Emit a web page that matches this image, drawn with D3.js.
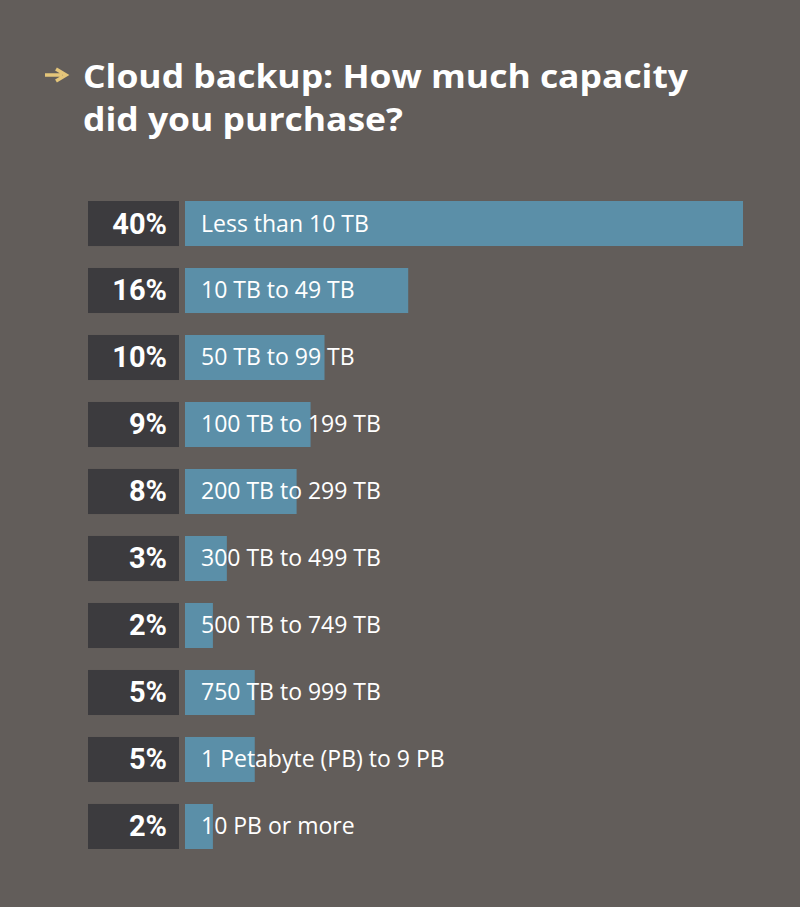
<!DOCTYPE html>
<html>
<head>
<script src="https://d3js.org/d3.v7.min.js"></script>
<style>
  body { margin: 0; background: #625d5a; }
</style>
</head>
<body>
<svg width="800" height="907"></svg>
<script>
var categories = ["Less than 10 TB", "10 TB to 49 TB", "50 TB to 99 TB", "100 TB to 199 TB",
    "200 TB to 299 TB", "300 TB to 499 TB", "500 TB to 749 TB", "750 TB to 999 TB",
    "1 Petabyte (PB) to 9 PB", "10 PB or more"];
var values = [40, 16, 10, 9, 8, 3, 2, 5, 5, 2];

var svg = d3.select("svg");
svg.append("rect").attr("width", 800).attr("height", 907).attr("fill", "#625d5a");

// title arrow
svg.append("path")
    .attr("d", "M45,75 L62,75 M56,69 L66,75 L56,81")
    .attr("stroke", "#e4c57a").attr("stroke-width", 3.5).attr("fill", "none");
svg.append("text").attr("x", 83).attr("y", 88)
    .attr("font-family", "'Open Sans', sans-serif").attr("font-weight", 700)
    .attr("font-size", 33).attr("fill", "#fff")
    .attr("textLength", 605).attr("lengthAdjust", "spacingAndGlyphs")
    .text("Cloud backup: How much capacity");
svg.append("text").attr("x", 83).attr("y", 131)
    .attr("font-family", "'Open Sans', sans-serif").attr("font-weight", 700)
    .attr("font-size", 33).attr("fill", "#fff")
    .attr("textLength", 320).attr("lengthAdjust", "spacingAndGlyphs")
    .text("did you purchase?");

var x = d3.scaleLinear().domain([0, 40]).range([0, 558]);
var y = d3.scaleBand().domain(categories).range([201, 849]).paddingInner(0.328).paddingOuter(0);

var row = svg.selectAll("g.row").data(categories).enter().append("g")
    .attr("class", "row")
    .attr("transform", function(d) { return "translate(0," + y(d) + ")"; });

row.append("rect").attr("x", 88).attr("width", 91).attr("height", y.bandwidth()).attr("fill", "#3c3b3e");
row.append("rect").attr("x", 185)
    .attr("width", function(d, i) { return x(values[i]); })
    .attr("height", y.bandwidth()).attr("fill", "#5b8fa8");
row.append("text").attr("x", 167).attr("y", y.bandwidth() / 2 + 10)
    .attr("text-anchor", "end").attr("font-family", "Roboto, sans-serif")
    .attr("font-weight", 700).attr("font-size", 29).attr("fill", "#fff")
    .text(function(d, i) { return values[i] + "%"; });
row.append("text").attr("x", 201).attr("y", y.bandwidth() / 2 + 8)
    .attr("font-family", "'Open Sans', sans-serif").attr("font-size", 23).attr("fill", "#fff")
    .text(function(d) { return d; });
</script>
</body>
</html>
